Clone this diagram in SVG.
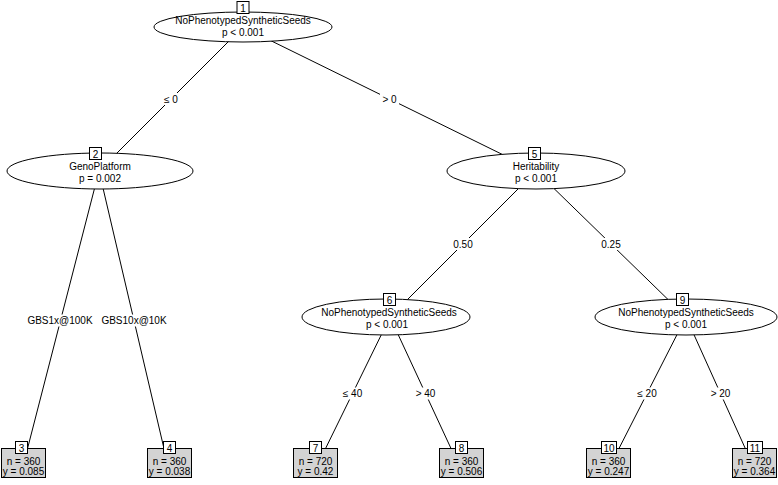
<svg xmlns="http://www.w3.org/2000/svg" width="778" height="485" viewBox="0 0 778 485">
<style>
text { font-family: "Liberation Sans", Arial, sans-serif; font-size: 10px; fill: #000; text-anchor: middle; }
.edge { stroke: #000; stroke-width: 1; fill: none; }
.inner { fill: #fff; stroke: #000; stroke-width: 1; }
.idbox { fill: #fff; stroke: #000; stroke-width: 1; }
.leaf { fill: #d3d3d3; stroke: #000; stroke-width: 1; }
.lblbg { fill: #fff; stroke: none; }
</style>
<rect width="778" height="485" fill="#fff"/>
<g id="connectors">
  <line class="edge" x1="243" y1="27" x2="99" y2="171"/>
  <line class="edge" x1="243" y1="27" x2="536" y2="171"/>
  <line class="edge" x1="99" y1="171" x2="22" y2="470"/>
  <line class="edge" x1="99" y1="171" x2="169" y2="470"/>
  <line class="edge" x1="536" y1="171" x2="390" y2="317"/>
  <line class="edge" x1="536" y1="171" x2="686" y2="317"/>
  <line class="edge" x1="390" y1="317" x2="315" y2="470"/>
  <line class="edge" x1="390" y1="317" x2="461" y2="470"/>
  <line class="edge" x1="686" y1="317" x2="608" y2="470"/>
  <line class="edge" x1="686" y1="317" x2="755" y2="470"/>
  <rect class="lblbg" x="162" y="93" width="18" height="12"/>
  <text x="171" y="102.5">≤ 0</text>
  <rect class="lblbg" x="380" y="93" width="19" height="12"/>
  <text x="389.5" y="102.5">&gt; 0</text>
  <rect class="lblbg" x="26" y="314.5" width="68" height="12"/>
  <text x="60" y="324">GBS1x@100K</text>
  <rect class="lblbg" x="100" y="314.5" width="68" height="12"/>
  <text x="134" y="324">GBS10x@10K</text>
  <rect class="lblbg" x="452" y="238" width="21" height="12"/>
  <text x="463" y="247.5">0.50</text>
  <rect class="lblbg" x="600" y="238" width="21" height="12"/>
  <text x="611" y="247.5">0.25</text>
  <rect class="lblbg" x="340" y="387.5" width="25" height="12"/>
  <text x="352.5" y="397">≤ 40</text>
  <rect class="lblbg" x="413" y="387.5" width="25" height="12"/>
  <text x="425.5" y="397">&gt; 40</text>
  <rect class="lblbg" x="634" y="387.5" width="26" height="12"/>
  <text x="647" y="397">≤ 20</text>
  <rect class="lblbg" x="708" y="387.5" width="26" height="12"/>
  <text x="720.5" y="397">&gt; 20</text>
</g>
<g id="node1">
  <ellipse class="inner" cx="243" cy="27" rx="89" ry="15"/>
  <rect class="idbox" x="237" y="1.5" width="12" height="12"/>
  <text x="243" y="11.5">1</text>
  <text x="243" y="24">NoPhenotypedSyntheticSeeds</text>
  <text x="243" y="36">p &lt; 0.001</text>
</g>
<g id="node2">
  <ellipse class="inner" cx="100" cy="171" rx="93" ry="18"/>
  <rect class="idbox" x="89.5" y="147.5" width="12" height="12"/>
  <text x="95.5" y="157.5">2</text>
  <text x="100" y="170">GenoPlatform</text>
  <text x="100" y="182">p = 0.002</text>
</g>
<g id="node5">
  <ellipse class="inner" cx="536" cy="171" rx="89" ry="18"/>
  <rect class="idbox" x="528.5" y="147.5" width="12" height="12"/>
  <text x="534.5" y="157.5">5</text>
  <text x="536" y="170">Heritability</text>
  <text x="536" y="182">p &lt; 0.001</text>
</g>
<g id="node6">
  <ellipse class="inner" cx="386" cy="317" rx="84" ry="18"/>
  <rect class="idbox" x="383.5" y="293.5" width="12" height="12"/>
  <text x="389.5" y="303.5">6</text>
  <text x="389" y="316">NoPhenotypedSyntheticSeeds</text>
  <text x="387" y="328">p &lt; 0.001</text>
</g>
<g id="node9">
  <ellipse class="inner" cx="686" cy="317" rx="91" ry="18"/>
  <rect class="idbox" x="676.5" y="293.5" width="12" height="12"/>
  <text x="682.5" y="303.5">9</text>
  <text x="686" y="316">NoPhenotypedSyntheticSeeds</text>
  <text x="686" y="328">p &lt; 0.001</text>
</g>
<g id="node3">
  <rect class="leaf" x="1.5" y="448.5" width="44" height="29"/>
  <rect class="idbox" x="15.5" y="441.5" width="12" height="12"/>
  <text x="21.5" y="451.5">3</text>
  <text x="23.5" y="464.5">n = 360</text>
  <text x="23.5" y="475">y = 0.085</text>
</g>
<g id="node4">
  <rect class="leaf" x="147.5" y="448.5" width="44" height="29"/>
  <rect class="idbox" x="163.5" y="441.5" width="12" height="12"/>
  <text x="169.5" y="451.5">4</text>
  <text x="169.5" y="464.5">n = 360</text>
  <text x="169.5" y="475">y = 0.038</text>
</g>
<g id="node7">
  <rect class="leaf" x="293.5" y="448.5" width="44" height="29"/>
  <rect class="idbox" x="309.5" y="441.5" width="12" height="12"/>
  <text x="315.5" y="451.5">7</text>
  <text x="315.5" y="464.5">n = 720</text>
  <text x="315.5" y="475">y = 0.42</text>
</g>
<g id="node8">
  <rect class="leaf" x="439.5" y="448.5" width="44" height="29"/>
  <rect class="idbox" x="455.5" y="441.5" width="12" height="12"/>
  <text x="461.5" y="451.5">8</text>
  <text x="461.5" y="464.5">n = 360</text>
  <text x="461.5" y="475">y = 0.506</text>
</g>
<g id="node10">
  <rect class="leaf" x="586.5" y="448.5" width="44" height="29"/>
  <rect class="idbox" x="601.5" y="441.5" width="15" height="12"/>
  <text x="609" y="451.5">10</text>
  <text x="608.5" y="464.5">n = 360</text>
  <text x="608.5" y="475">y = 0.247</text>
</g>
<g id="node11">
  <rect class="leaf" x="732.5" y="448.5" width="44" height="29"/>
  <rect class="idbox" x="747.5" y="441.5" width="15" height="12"/>
  <text x="755" y="451.5">11</text>
  <text x="754.5" y="464.5">n = 720</text>
  <text x="754.5" y="475">y = 0.364</text>
</g>
</svg>
